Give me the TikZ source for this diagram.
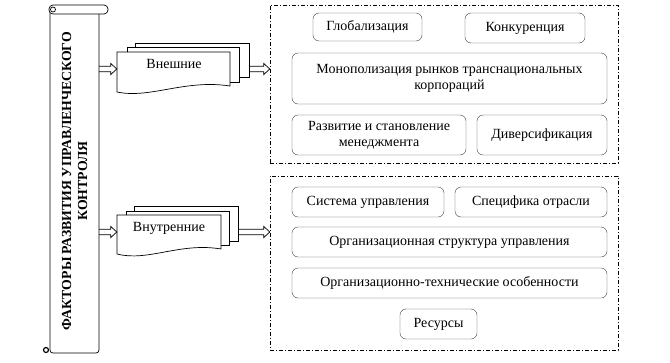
\documentclass[tikz,border=0pt]{standalone}
\usepackage{fontspec}
\setmainfont{Liberation Serif}
\usetikzlibrary{calc}
\begin{document}
\begin{tikzpicture}[x=1pt, y=-1pt,
    fact/.style={draw=black!75, rounded corners=6pt, align=center, font=\fontsize{14}{16}\selectfont, inner sep=2pt},
    area/.style={draw, dash pattern=on 4pt off 2pt on 1pt off 2pt, inner sep=0pt},
    sheet/.style={draw, fill=white, line width=0.7pt},
    hollow/.style={draw, line width=0.7pt, to path={let \p1=(\tikztostart), \p2=(\tikztotarget) in
      (\x1,\y1+2.8pt) -- (\x2-6pt,\y1+2.8pt) -- (\x2-6pt,\y1+5.5pt) -- (\x2,\y1) -- (\x2-6pt,\y1-5.5pt) -- (\x2-6pt,\y1-2.8pt) -- (\x1,\y1-2.8pt)}}]
    \useasboundingbox (0,0) rectangle (670,362);
    % scroll
    \node[minimum width=49pt, minimum height=344pt, inner sep=0pt] (scroll) at (74.5,181) {};
    \draw[line width=0.7pt, rounded corners=3pt] (50,10) -- (50,353) -- (99,353) -- (99,10);
    \draw[line width=0.7pt, fill=white, rounded corners=4pt] (49,5) rectangle (108,14);
    \draw[line width=0.7pt] (53,9.5) circle (2.5pt);
    \draw[line width=1.2pt] (46,350) circle (2.5pt);
    \node[rotate=90, align=center, font=\bfseries\fontsize{13.8}{16}\selectfont] (title) at (scroll.center) {ФАКТОРЫ РАЗВИТИЯ УПРАВЛЕНЧЕСКОГО\\КОНТРОЛЯ};
    % documents
    \node[minimum width=132pt, minimum height=49pt, inner sep=0pt] (extdoc) at (183,69) {};
    \draw[sheet] (135,43) rectangle (249,77);
    \draw[sheet] (127,47) rectangle (239,82);
    \draw[sheet] (117,52) -- (230,52) -- (230,86) .. controls (185,79) and (150,99) .. (117,92) -- cycle;
    \node[font=\fontsize{14}{16}\selectfont] (extlbl) at (174,64) {Внешние};
    \node[minimum width=121pt, minimum height=50pt, inner sep=0pt] (intdoc) at (177.5,232) {};
    \draw[sheet] (134,206) rectangle (238,241);
    \draw[sheet] (126,211) rectangle (229,245);
    \draw[sheet] (117,215) -- (221,215) -- (221,249) .. controls (180,242) and (148,262) .. (117,254) -- cycle;
    \node[font=\fontsize{14}{16}\selectfont] (intlbl) at (169,228) {Внутренние};
    % groups
    \node[area, minimum width=348pt, minimum height=158pt] (extbox) at (444,84) {};
    \node[area, minimum width=348pt, minimum height=174pt] (intbox) at (444,263) {};
    \node[fact, minimum width=109pt, minimum height=28pt] (glob) at (367.5,27) {Глобализация};
    \node[fact, minimum width=120pt, minimum height=30pt] (konk) at (525,28) {Конкуренция};
    \node[fact, minimum width=315pt, minimum height=51pt] (monop) at (449.5,78.5) {Монополизация рынков транснациональных\\корпораций};
    \node[fact, minimum width=174pt, minimum height=40pt] (razv) at (379,135) {Развитие и становление\\менеджмента};
    \node[fact, minimum width=130pt, minimum height=40pt] (divers) at (542,135) {Диверсификация};
    \node[fact, minimum width=152pt, minimum height=30pt] (sist) at (368,202) {Система управления};
    \node[fact, minimum width=152pt, minimum height=30pt] (spec) at (531,202) {Специфика отрасли};
    \node[fact, minimum width=315pt, minimum height=30pt] (orgstr) at (449.5,242) {Организационная структура управления};
    \node[fact, minimum width=315pt, minimum height=30pt] (orgteh) at (449.5,283) {Организационно-технические особенности};
    \node[fact, minimum width=77pt, minimum height=30pt] (res) at (438.5,324) {Ресурсы};
    % arrows
    \draw[hollow] (scroll.east |- extdoc.west) to (extdoc.west);
    \draw[hollow] (extdoc.east) to (extbox.west |- extdoc.east);
    \draw[hollow] (scroll.east |- intdoc.west) to (intdoc.west);
    \draw[hollow] (intdoc.east) to (intbox.west |- intdoc.east);
\end{tikzpicture}
\end{document}
